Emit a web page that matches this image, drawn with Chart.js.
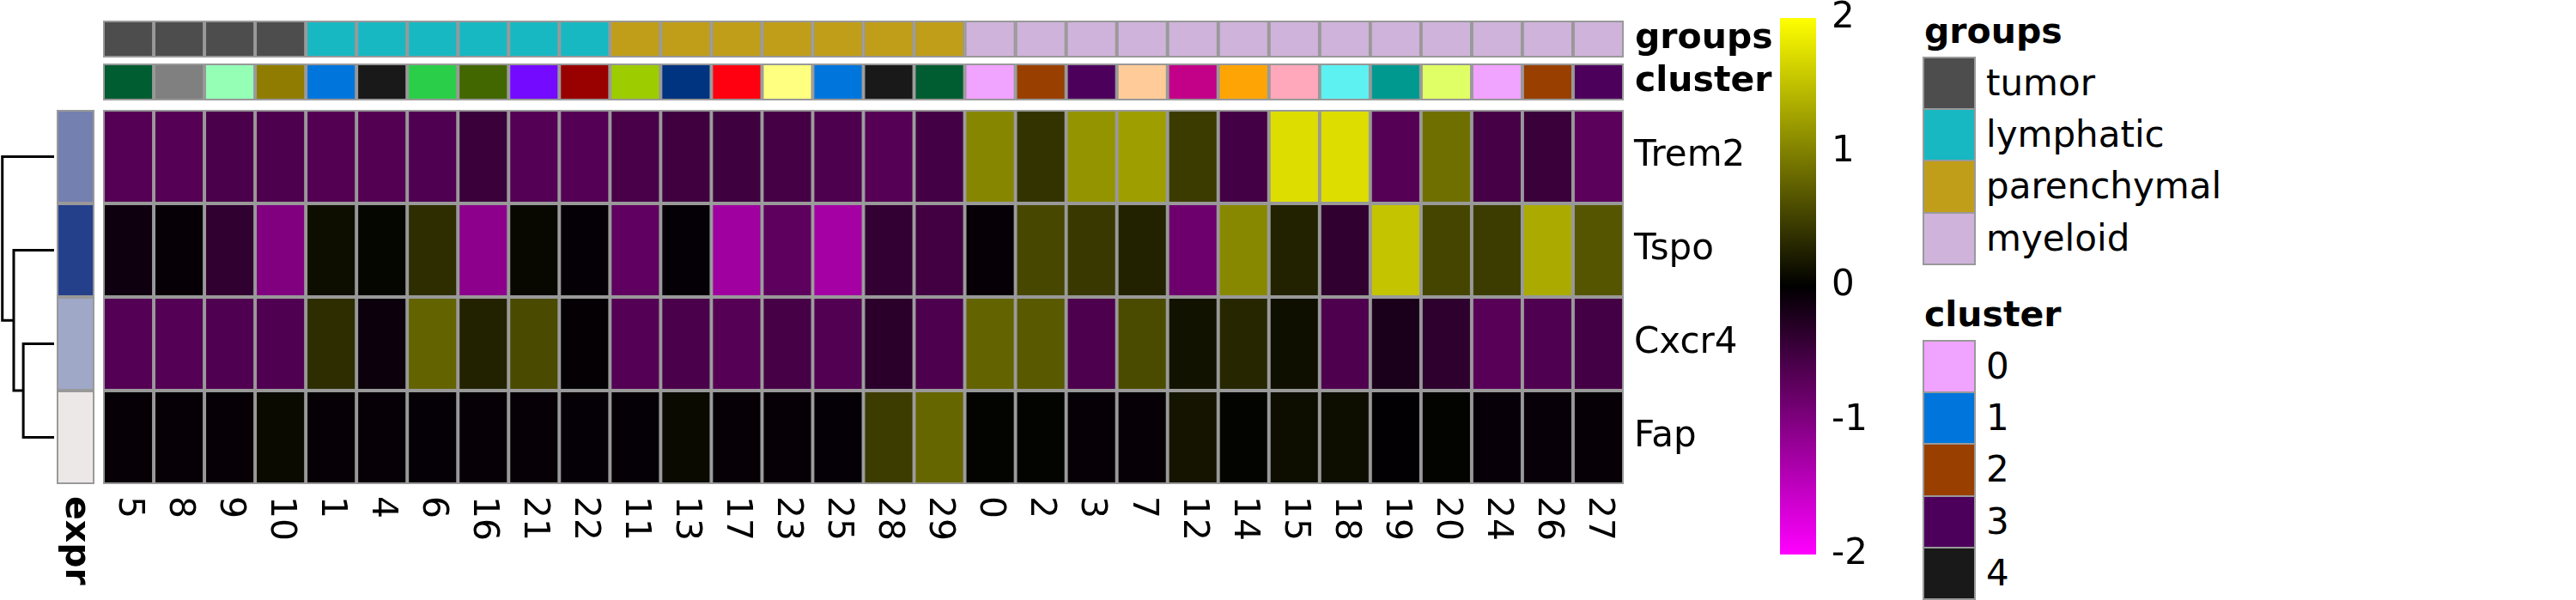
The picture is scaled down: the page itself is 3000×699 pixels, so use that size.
<!DOCTYPE html>
<html><head><meta charset="utf-8">
<script src="https://cdn.jsdelivr.net/npm/chart.js@4.4.1/dist/chart.umd.min.js"></script>
<style>
html,body{margin:0;padding:0;background:#fff;width:3000px;height:699px;overflow:hidden;font-family:"DejaVu Sans",sans-serif;}
#wrap{position:relative;width:3000px;height:699px;overflow:hidden;}
canvas{position:absolute;}
.lg{position:absolute;font-size:42px;color:#000;white-space:nowrap;font-family:"DejaVu Sans",sans-serif;}
.ttl{font-weight:bold;font-size:41px;line-height:41px;}
.box{position:absolute;box-sizing:border-box;border:2.5px solid #999;}
</style></head><body>
<div id="wrap">
<canvas id="dendro"></canvas>
<canvas id="expr"></canvas>
<canvas id="groups"></canvas>
<canvas id="cluster"></canvas>
<canvas id="heat"></canvas>
<canvas id="cbar"></canvas>
</div>
<script>
// ---------------- DATA ----------------
const columns = ['5','8','9','10','1','4','6','16','21','22','11','13','17','23','25','28','29','0','2','3','7','12','14','15','18','19','20','24','26','27'];
const columnGroups = ['tumor','tumor','tumor','tumor',
  'lymphatic','lymphatic','lymphatic','lymphatic','lymphatic','lymphatic',
  'parenchymal','parenchymal','parenchymal','parenchymal','parenchymal','parenchymal','parenchymal',
  'myeloid','myeloid','myeloid','myeloid','myeloid','myeloid','myeloid','myeloid','myeloid','myeloid','myeloid','myeloid','myeloid'];
const groupNames = ['tumor','lymphatic','parenchymal','myeloid'];
const clusterNames = ['0','1','2','3','4','5','6','7','8','9','10','11','12','13','14','15','16','17','18','19','20','21','22','23','24','25','26','27','28','29'];
const genes = ['Trem2','Tspo','Cxcr4','Fap'];
const trem2 = [-0.67,-0.67,-0.58,-0.60,-0.65,-0.65,-0.63,-0.45,-0.66,-0.66,-0.57,-0.50,-0.49,-0.54,-0.60,-0.67,-0.53,1.05,0.40,1.16,1.24,0.46,-0.53,1.73,1.73,-0.67,0.87,-0.55,-0.45,-0.71];
const tspo  = [-0.11,-0.05,-0.38,-1.00,0.11,0.05,0.35,-1.10,0.06,-0.04,-0.75,-0.04,-1.25,-0.74,-1.29,-0.40,-0.52,-0.05,0.56,0.44,0.27,-0.86,1.07,0.27,-0.38,1.54,0.54,0.47,1.33,0.67];
const cxcr4 = [-0.66,-0.66,-0.63,-0.63,0.35,-0.09,0.78,0.27,0.58,-0.03,-0.66,-0.58,-0.67,-0.55,-0.64,-0.33,-0.60,0.78,0.70,-0.60,0.59,0.14,0.30,0.12,-0.61,-0.20,-0.35,-0.69,-0.63,-0.53];
const fap   = [-0.05,-0.05,-0.05,0.08,-0.05,-0.05,-0.04,-0.05,-0.05,-0.04,-0.04,0.08,-0.05,-0.05,-0.04,0.47,0.80,0.02,0.02,-0.05,-0.05,0.16,0.02,0.11,0.10,-0.02,0.02,-0.06,-0.06,-0.05];
const colorbarTicks = [2,1,0,-1,-2];
// row dendrogram: [childA, childB, height]; non-negative = gene index, negative = -(merge index + 1)
const dendroMerges = [[2,3,0.595],[1,-1,0.78],[0,-2,1.0]];

// ---------------- STYLES ----------------
const groupColors = {tumor:'#4d4d4d', lymphatic:'#18b8c2', parenchymal:'#c19e1a', myeloid:'#cfb3da'};
const clusterPalette = ['#F0A3FF','#0075DC','#993F00','#4C005C','#191919','#005C31','#2BCE48','#FFCC99','#808080','#94FFB5','#8F7C00','#9DCC00','#C20088','#003380','#FFA405','#FFA8BB','#426600','#FF0010','#5EF1F2','#00998F','#E0FF66','#740AFF','#990000','#FFFF80'];
const exprColors = ['#7480b0','#25408b','#a0a8c8','#ede8e8'];
const GRID = '#999999';
const FONT = '"DejaVu Sans", sans-serif';

const values = [trem2, tspo, cxcr4, fap];
function valueColor(v){
  const t = Math.max(-2, Math.min(2, v)) / 2;
  const c = Math.round(Math.abs(t) * 255);
  return t < 0 ? `rgb(${c},0,${c})` : `rgb(${c},${c},0)`;
}
const clusterColor = k => clusterPalette[Number(k) % clusterPalette.length];

// ---------------- LAYOUT ----------------
const HX = 120, HW = 1771, RIGHT = 195;
const HY = 128, HH = 436, LAB = 135;

function place(id, left, top, w, h){
  const c = document.getElementById(id);
  c.width = w; c.height = h;
  c.style.left = left + 'px'; c.style.top = top + 'px';
  c.style.width = w + 'px'; c.style.height = h + 'px';
  return c;
}
const base = (padding) => ({
  responsive:false, animation:false, devicePixelRatio:1,
  layout:{padding},
  plugins:{legend:{display:false}, tooltip:{enabled:false}},
  events:[]
});

// annotation row charts
function annoChart(id, top, colors, name){
  const cv = place(id, HX, top, HW + RIGHT, 43);
  new Chart(cv, {
    type:'bar',
    data:{labels:columns, datasets:[{data:columns.map(()=>[0,1]), backgroundColor:colors,
      borderColor:GRID, borderWidth:2.3, borderSkipped:false, barPercentage:1, categoryPercentage:1}]},
    options:Object.assign(base({left:0,top:0,right:RIGHT,bottom:0}), {
      scales:{x:{display:false}, y:{display:false, min:0, max:1}}
    }),
    plugins:[{id:'lab', afterDraw(ch){
      const ctx = ch.ctx, a = ch.chartArea;
      ctx.save(); ctx.fillStyle='#000'; ctx.font = 'bold 41px ' + FONT;
      ctx.textAlign='left'; ctx.textBaseline='middle';
      ctx.fillText(name, a.right + 13, ch.scales.y.getPixelForValue(0.5));
      ctx.restore();
    }}]
  });
}
annoChart('groups', 24, columnGroups.map(g => groupColors[g]), 'groups');
annoChart('cluster', 74, columns.map(clusterColor), 'cluster');

// heatmap
{
  const cv = place('heat', HX, HY, HW + RIGHT, HH + LAB);
  new Chart(cv, {
    type:'bar',
    data:{labels:columns, datasets: genes.map((g, r) => ({
      label:g, data: columns.map(() => [r, r + 1]),
      backgroundColor: values[r].map(valueColor),
      borderColor:GRID, borderWidth:2.3, borderSkipped:false,
      barPercentage:1, categoryPercentage:1, grouped:false }))},
    options:Object.assign(base({left:0,top:0,right:RIGHT,bottom:LAB}), {
      scales:{x:{display:false}, y:{display:false, min:0, max:genes.length, reverse:true}}
    }),
    plugins:[{id:'lab', afterDraw(ch){
      const ctx = ch.ctx, a = ch.chartArea, xs = ch.scales.x, ys = ch.scales.y;
      ctx.save(); ctx.fillStyle='#000'; ctx.font = '42px ' + FONT;
      ctx.textAlign='left'; ctx.textBaseline='middle';
      genes.forEach((g, r) => ctx.fillText(g, a.right + 12, ys.getPixelForValue(r + 0.5)));
      ctx.font = '41px ' + FONT;
      columns.forEach((c, i) => {
        ctx.save();
        ctx.translate(xs.getPixelForValue(i), a.bottom + 14);
        ctx.rotate(Math.PI / 2);
        ctx.fillText(c, 0, 0);
        ctx.restore();
      });
      ctx.restore();
    }}]
  });
}

// expr row annotation
{
  const cv = place('expr', 66, HY, 44, HH + LAB);
  new Chart(cv, {
    type:'bar',
    data:{labels:['expr'], datasets: genes.map((g, r) => ({
      label:g, data:[[r, r + 1]], backgroundColor:exprColors[r],
      borderColor:GRID, borderWidth:2.3, borderSkipped:false,
      barPercentage:1, categoryPercentage:1, grouped:false }))},
    options:Object.assign(base({left:0,top:0,right:0,bottom:LAB}), {
      scales:{x:{display:false}, y:{display:false, min:0, max:genes.length, reverse:true}}
    }),
    plugins:[{id:'lab', afterDraw(ch){
      const ctx = ch.ctx, a = ch.chartArea;
      ctx.save(); ctx.fillStyle='#000'; ctx.font = 'bold 41px ' + FONT;
      ctx.textAlign='left'; ctx.textBaseline='middle';
      ctx.translate((a.left + a.right) / 2, a.bottom + 14);
      ctx.rotate(Math.PI / 2);
      ctx.fillText('expr', 0, 0);
      ctx.restore();
    }}]
  });
}

// dendrogram
{
  const cv = place('dendro', 0, HY, 63, HH);
  const nodeY = [], nodeH = [];
  const pos = k => k >= 0 ? [k, 0] : [nodeY[-k - 1], nodeH[-k - 1]];
  const segs = dendroMerges.map(([a, b, h], i) => {
    const [ya, ha] = pos(a), [yb, hb] = pos(b);
    nodeY[i] = (ya + yb) / 2; nodeH[i] = h;
    return {data:[{x:ha, y:ya},{x:h, y:ya},{x:h, y:yb},{x:hb, y:yb}],
      showLine:true, borderColor:'#000', borderWidth:3, pointRadius:0, tension:0, fill:false};
  });
  new Chart(cv, {
    type:'scatter',
    data:{datasets:segs},
    options:Object.assign(base({left:0,top:0,right:0,bottom:0}), {
      scales:{x:{display:false, type:'linear', min:0, max:1.045, reverse:true},
              y:{display:false, type:'linear', min:-0.5, max:genes.length - 0.5, reverse:true}}
    })
  });
}

// colour bar
{
  const cv = place('cbar', 2073, 0, 130, 699);
  const lo = Math.min(...colorbarTicks), hi = Math.max(...colorbarTicks);
  new Chart(cv, {
    type:'bar',
    data:{labels:[''], datasets:[{data:[[lo, hi]], borderWidth:0, barPercentage:1, categoryPercentage:1,
      backgroundColor(ctx){
        const a = ctx.chart.chartArea; if (!a) return '#000';
        const g = ctx.chart.ctx.createLinearGradient(0, a.bottom, 0, a.top);
        colorbarTicks.slice().sort((p, q) => p - q).forEach(v => g.addColorStop((v - lo) / (hi - lo), valueColor(v)));
        return g;
      }}]},
    options:Object.assign(base({left:0,top:21,right:88,bottom:53}), {
      scales:{x:{display:false}, y:{display:false, min:lo, max:hi}}
    }),
    plugins:[{id:'lab', afterDraw(ch){
      const ctx = ch.ctx, a = ch.chartArea, ys = ch.scales.y;
      ctx.save(); ctx.fillStyle='#000'; ctx.font = '42px ' + FONT;
      ctx.textAlign='left'; ctx.textBaseline='middle';
      colorbarTicks.forEach(v => ctx.fillText(String(v), a.right + 18, ys.getPixelForValue(v)));
      ctx.restore();
    }}]
  });
}

// legends (HTML)
{
  const wrap = document.getElementById('wrap');
  function legend(title, titleTop, boxTop, items, colorOf){
    const t = document.createElement('div');
    t.className = 'lg ttl'; t.textContent = title;
    t.style.left = '2241px'; t.style.top = titleTop + 'px';
    wrap.appendChild(t);
    const pitch = 60.35;
    items.forEach((it, i) => {
      const b = document.createElement('div');
      b.className = 'box';
      b.style.left = '2239px'; b.style.top = (boxTop + i * pitch) + 'px';
      b.style.width = '62px'; b.style.height = (pitch + 2.5) + 'px';
      b.style.background = colorOf(it);
      wrap.appendChild(b);
      const l = document.createElement('div');
      l.className = 'lg'; l.textContent = it;
      l.style.left = '2313px'; l.style.top = (boxTop + i * pitch + 1) + 'px';
      l.style.height = pitch + 'px'; l.style.lineHeight = pitch + 'px';
      wrap.appendChild(l);
    });
  }
  legend('groups', 16, 65.6, groupNames, g => groupColors[g]);
  legend('cluster', 346, 395.7, clusterNames, clusterColor);
}
</script>
</body></html>
